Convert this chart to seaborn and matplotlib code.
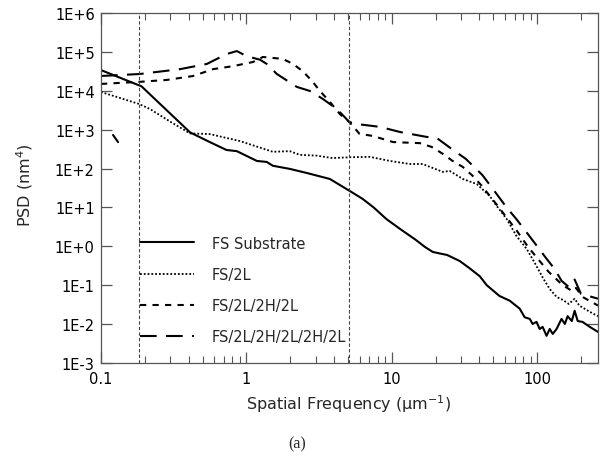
import matplotlib
matplotlib.use("Agg")
import matplotlib.pyplot as plt
import matplotlib.ticker as mticker
import numpy as np
import pandas as pd
import seaborn as sns

# spatial frequency (um^-1) and PSD (nm^4)
f_sub = [0.1, 0.19, 0.41, 0.56, 0.73, 0.86, 1.18, 1.38, 1.52, 1.99, 2.6, 3.75, 5.1,
         6.3, 7.5, 9.2, 11.4, 14.5, 17, 19.1, 21.2, 24, 29.3, 34, 40.3, 45, 55,
         64.7, 75.8, 82, 89, 93, 99, 104, 109, 116, 122, 128, 136, 147, 155, 162,
         173, 181, 190, 205, 230, 262]
psd_sub = [3.4e4, 1.3e4, 850, 480, 300, 280, 157, 148, 118, 98, 77, 54, 27,
           16.6, 10, 5.0, 2.8, 1.5, 0.95, 0.72, 0.66, 0.6, 0.42, 0.28, 0.17, 0.1, 0.053,
           0.04, 0.025, 0.015, 0.0136, 0.0101, 0.0114, 0.0075, 0.0085, 0.005, 0.0075,
           0.0056, 0.0075, 0.0136, 0.0101, 0.016, 0.012, 0.022, 0.012, 0.0114, 0.0085,
           0.0063]

f_2l = [0.1, 0.182, 0.217, 0.3, 0.41, 0.56, 0.9, 1.52, 1.99, 2.33, 3.05, 3.9, 5.1,
        7.06, 9.7, 13.3, 16.3, 22.4, 25, 30.8, 38.4, 47, 52.6, 61.6, 72, 84.7, 99,
        110, 122, 136, 150, 165, 181, 195, 215, 240, 262]
psd_2l = [9300, 4600, 3400, 1600, 800, 770, 510, 270, 280, 225, 215, 186, 195,
          200, 157, 131, 131, 82, 87, 54, 40, 20, 11, 5.1, 1.85, 0.86, 0.31,
          0.15, 0.08, 0.05, 0.042, 0.033, 0.045, 0.03, 0.024, 0.019, 0.016]

f_4 = [0.1, 0.185, 0.284, 0.43, 0.59, 0.81, 1.11, 1.3, 1.78, 2.09, 2.44, 2.86, 3.2,
       3.75, 4.4, 5.1, 6.0, 7.4, 10.2, 15.6, 18.8, 22.4, 26.2, 30.8, 36, 41.6, 47.2,
       53.5, 61.6, 72, 86, 100, 120, 150, 175, 185, 205, 262]
psd_4 = [1.5e4, 1.7e4, 1.9e4, 2.4e4, 3.6e4, 4.3e4, 5.5e4, 7.4e4, 6.6e4, 4.9e4,
         3.2e4, 1.7e4, 9.9e3, 5.2e3, 2.5e3, 1580, 780, 690, 480, 450, 360, 240,
         157, 110, 65, 36, 19.8, 11, 5.5, 2.6, 1.0, 0.5, 0.22, 0.1, 0.07, 0.085,
         0.05, 0.03]

f_6 = [0.1, 0.185, 0.35, 0.535, 0.73, 0.86, 1.0, 1.24, 1.38, 1.62, 2.22, 2.73, 3.35,
       4.19, 5.1, 5.7, 8.3, 11.4, 17.4, 20.4, 25.8, 32.3, 42, 52.7, 61.6, 72, 86,
       100, 115, 132, 147, 165, 181, 200, 262]
psd_6 = [2.4e4, 2.7e4, 3.6e4, 4.9e4, 8.8e4, 1.05e5, 7.8e4, 6.3e4, 4.9e4, 2.7e4,
         1.26e4, 9.9e3, 6.2e3, 3.4e3, 1580, 1400, 1180, 870, 650, 610, 320, 177,
         68, 22, 10, 5, 2.1, 1.0, 0.5, 0.26, 0.13, 0.09, 0.14, 0.06, 0.045]

# short stray segment near the left edge
f_stray = [0.121, 0.131]
psd_stray = [730, 480]

labels = ["FS Substrate", "FS/2L", "FS/2L/2H/2L", "FS/2L/2H/2L/2H/2L"]
ref_lines = [0.182, 5.1]

sns.set_style("ticks")
plt.rcParams["font.family"] = ["DejaVu Sans"]
plt.rcParams["mathtext.default"] = "regular"

fig = plt.figure(figsize=(6.06, 4.64), dpi=100)
ax = fig.add_axes([101 / 606, 1 - 364 / 464, 497 / 606, 350 / 464])

series = [(f_sub, psd_sub, "-", 1.5),
          (f_2l, psd_2l, (0, (1, 1.1)), 1.3),
          (f_4, psd_4, (0, (3, 3)), 1.5),
          (f_6, psd_6, (0, (8, 4.5)), 1.5)]
for (fx, py, ls, lw), lab in zip(series, labels):
    df = pd.DataFrame({"f": fx, "psd": py})
    sns.lineplot(data=df, x="f", y="psd", ax=ax, color="black", linestyle=ls,
                 linewidth=lw, label=lab, estimator=None, sort=False)

sns.lineplot(x=f_stray, y=psd_stray, ax=ax, color="black", linewidth=1.5,
             estimator=None, sort=False, legend=False)

for xv in ref_lines:
    ax.axvline(xv, color="#444444", linewidth=0.8, linestyle=(0, (3, 2)))

ax.set_xscale("log")
ax.set_yscale("log")
ax.set_xlim(0.1, 262)
ax.set_ylim(1e-3, 1e6)

ax.yaxis.set_major_locator(mticker.LogLocator(base=10, numticks=20))
ax.yaxis.set_minor_locator(mticker.NullLocator())
ax.yaxis.set_major_formatter(mticker.FuncFormatter(
    lambda v, p: "1E%+d" % int(round(np.log10(v)))))
ax.xaxis.set_major_locator(mticker.LogLocator(base=10, numticks=10))
ax.xaxis.set_minor_locator(mticker.LogLocator(base=10, subs=np.arange(2, 10), numticks=20))
ax.xaxis.set_major_formatter(mticker.FuncFormatter(lambda v, p: "%g" % v))
ax.xaxis.set_minor_formatter(mticker.NullFormatter())

ax.tick_params(which="both", direction="in", top=True, right=True,
               colors="#555555", labelcolor="black", labelsize=10.5)
ax.tick_params(which="major", length=8, width=0.9)
ax.tick_params(which="minor", length=5, width=0.8)
ax.tick_params(axis="x", pad=6)
ax.tick_params(axis="y", pad=4.5)
for sp in ax.spines.values():
    sp.set_color("#555555")
    sp.set_linewidth(0.9)

ax.set_xlabel("Spatial Frequency (μm$^{-1}$)", fontsize=11.5)
ax.set_ylabel("PSD (nm$^4$)", fontsize=11.5)
ax.xaxis.set_label_coords(0.499, -0.114)
ax.xaxis.label.set_va("center")
ax.yaxis.set_label_coords(-0.153, 0.51)
ax.yaxis.label.set_va("center")

ax.legend(loc="upper left", bbox_to_anchor=(0.078, 0.364), frameon=False,
          fontsize=10.5, handlelength=3.75, handletextpad=1.2, labelspacing=1.1,
          borderpad=0, borderaxespad=0)

fig.text(0.49, 0.043, "(a)", ha="center", va="center", fontsize=11.5,
         family=["Liberation Serif", "DejaVu Serif"])

fig.savefig("out.png", dpi=100)
